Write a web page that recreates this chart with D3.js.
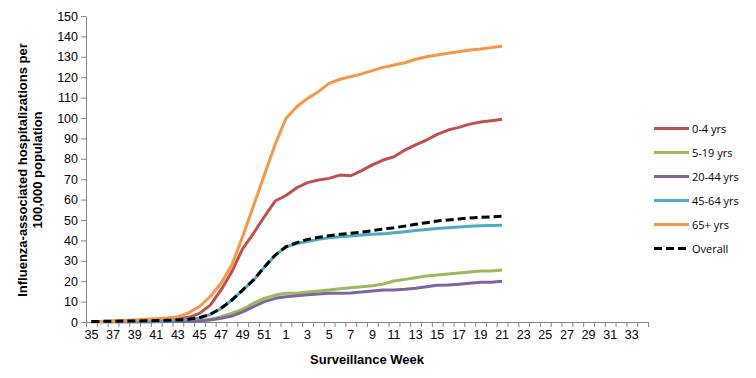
<!DOCTYPE html>
<html><head><meta charset="utf-8">
<script src="https://cdn.jsdelivr.net/npm/d3@7"></script>
<style>body{margin:0;background:#fff;} svg{display:block;}</style>
</head><body>
<svg id="chart" width="756" height="378"></svg>
<script>
const weeks = [35,36,37,38,39,40,41,42,43,44,45,46,47,48,49,50,51,52,1,2,3,4,5,6,7,8,9,10,11,12,13,14,15,16,17,18,19,20,21,22,23,24,25,26,27,28,29,30,31,32,33,34];
const seriesNames = ["0-4 yrs","5-19 yrs","20-44 yrs","45-64 yrs","65+ yrs","Overall"];
const age0_4   = [0.2,0.3,0.4,0.5,0.6,0.7,0.8,1.0,1.5,2.3,4.2,8.3,15.7,24.7,36,43.5,51.6,59.3,62,65.8,68.3,69.6,70.4,72,71.7,74.2,77,79.4,81,84.3,86.8,89.2,92,94.1,95.4,97,98,98.7,99.4];
const age5_19  = [0.1,0.1,0.1,0.1,0.1,0.1,0.2,0.2,0.3,0.4,0.7,1.3,2.6,4.3,6.2,9.2,11.6,13.2,14.1,14.1,14.7,15.2,15.7,16.3,16.8,17.3,17.8,18.6,20.1,20.9,21.7,22.5,23,23.5,24,24.5,25,25,25.5];
const age20_44 = [0.1,0.1,0.1,0.1,0.1,0.1,0.1,0.2,0.2,0.3,0.5,1.0,1.8,2.9,5,7.5,10,11.6,12.4,12.9,13.4,13.7,14.1,14.1,14.2,14.7,15.2,15.7,15.7,16,16.5,17.3,18,18.1,18.5,19,19.5,19.5,20];
const age45_64 = [0.2,0.2,0.3,0.3,0.4,0.5,0.6,0.7,0.9,1.2,2.0,3.7,6.6,10.7,15.6,20.5,26.8,32.6,36.8,38.5,39.5,40.5,41.3,41.8,42.2,42.6,43,43.2,43.7,44.2,44.8,45.3,45.8,46.2,46.6,46.9,47.2,47.3,47.4];
const age65    = [0.2,0.3,0.5,0.7,1.0,1.3,1.6,2.0,2.6,4.5,7.6,12.5,19,28,42,57,72,87,99.8,105.5,109.6,112.9,117,119,120.3,121.6,123.2,124.8,126,127.1,128.8,130,130.9,131.7,132.5,133.3,133.8,134.5,135.2];
const overall  = [0.2,0.3,0.4,0.5,0.5,0.6,0.7,0.8,1.0,1.3,2.1,3.8,6.7,10.8,15.7,20.6,27,32.8,36.9,38.9,40.5,41.5,42.3,43,43.5,44,44.8,45.6,46.2,47,47.9,48.7,49.5,50,50.5,51,51.3,51.5,51.8];
const yTicks = d3.range(0, 151, 10);
const xLabelWeeks = [35,37,39,41,43,45,47,49,51,1,3,5,7,9,11,13,15,17,19,21,23,25,27,29,31,33];
const colors = ["#C0504D","#9BBB59","#8064A2","#4BACC6","#F79646","#000000"];
const allSeries = [age0_4, age5_19, age20_44, age45_64, age65, overall];

const svg = d3.select("#chart");
const mLeft = 86, mRight = 648, mTop = 16, mBottom = 322;
const x = d3.scaleBand().domain(d3.range(weeks.length)).range([mLeft, mRight]).paddingInner(0).paddingOuter(0);
const xb = d3.scaleLinear().domain([0, weeks.length]).range([mLeft, mRight]);
const y = d3.scaleLinear().domain([0, 150]).range([mBottom, mTop]);
const axisColor = "#868686";
const font = "'Liberation Sans', Arial, sans-serif";

// Y axis
const yAxis = svg.append("g").attr("transform", `translate(${mLeft},0)`)
  .call(d3.axisLeft(y).tickValues(yTicks).tickSize(5).tickSizeOuter(0).tickPadding(3));
yAxis.select(".domain").attr("stroke", axisColor);
yAxis.selectAll(".tick line").attr("stroke", axisColor);
yAxis.selectAll(".tick text").attr("font-family", font).attr("font-size", 12.5).attr("fill", "#000");

// X axis tick marks at boundaries
const xTickAxis = svg.append("g").attr("transform", `translate(0,${mBottom})`)
  .call(d3.axisBottom(xb).tickValues(d3.range(0, weeks.length + 1)).tickSize(5).tickSizeOuter(0).tickFormat(""));
xTickAxis.select(".domain").attr("stroke", axisColor);
xTickAxis.selectAll(".tick line").attr("stroke", axisColor);

// X labels
const xLab = svg.append("g").attr("transform", `translate(0,${mBottom})`)
  .call(d3.axisBottom(x).tickSize(0).tickPadding(8)
    .tickValues(d3.range(weeks.length).filter(i => xLabelWeeks.includes(weeks[i]) && i % 2 === 0))
    .tickFormat(i => weeks[i]));
xLab.select(".domain").remove();
xLab.selectAll(".tick text").attr("font-family", font).attr("font-size", 12.5).attr("fill", "#000");

// Lines
const line = d3.line().x((d, i) => x(i) + x.bandwidth() / 2).y(d => y(d));
allSeries.forEach((s, k) => {
  svg.append("path").datum(s)
    .attr("fill", "none")
    .attr("stroke", colors[k])
    .attr("stroke-width", 3)
    .attr("stroke-dasharray", k === 5 ? "8,4" : null)
    .attr("stroke-linejoin", "round")
    .attr("d", line);
});

// Axis titles
svg.append("text").attr("x", 367).attr("y", 364).attr("text-anchor", "middle")
  .attr("font-family", font).attr("font-size", 13).attr("font-weight", "bold").text("Surveillance Week");
const yt = svg.append("text").attr("transform", "translate(27,170) rotate(-90)").attr("text-anchor", "middle")
  .attr("font-family", font).attr("font-size", 13).attr("font-weight", "bold");
yt.append("tspan").attr("x", 0).attr("dy", 0).text("Influenza-associated hospitalizations per");
yt.append("tspan").attr("x", 0).attr("dy", 15).text("100,000  population");

// Legend
const lg = svg.append("g");
seriesNames.forEach((n, k) => {
  const yy = 128.5 + k * 24;
  lg.append("line").attr("x1", 654).attr("x2", 689).attr("y1", yy).attr("y2", yy)
    .attr("stroke", colors[k]).attr("stroke-width", 3)
    .attr("stroke-dasharray", k === 5 ? "8,4" : null);
  lg.append("text").attr("x", 692).attr("y", yy + 4).attr("font-family", "'Open Sans', 'Noto Sans', sans-serif")
    .attr("font-size", 11).attr("fill", "#000").text(n);
});
</script>
</body></html>
